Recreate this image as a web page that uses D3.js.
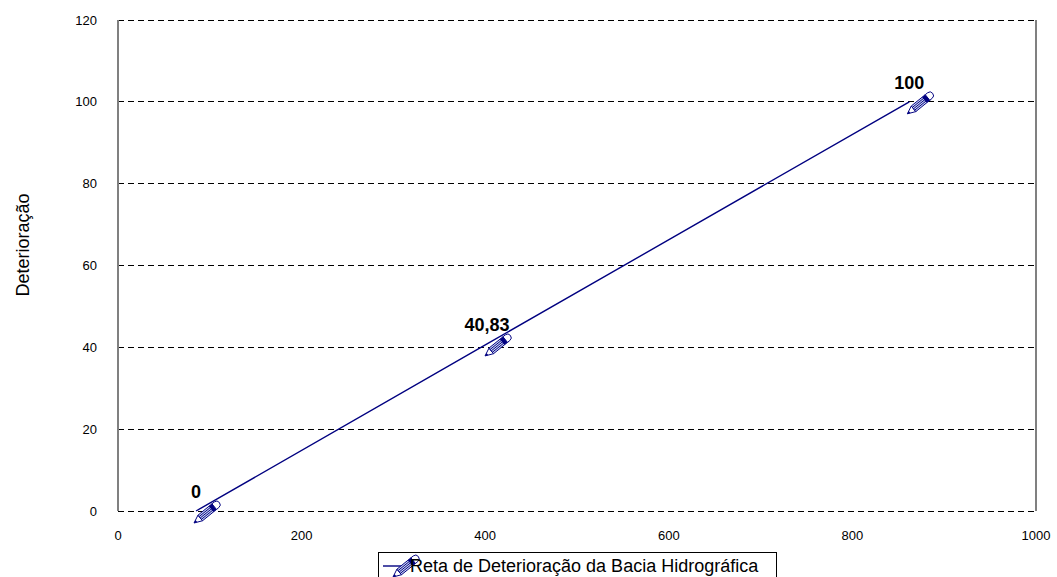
<!DOCTYPE html>
<html>
<head>
<meta charset="utf-8">
<script src="https://cdn.jsdelivr.net/npm/d3@7"></script>
<style>
  html, body { margin: 0; padding: 0; background: #fff; }
  svg { display: block; font-family: "Liberation Sans", Arial, sans-serif; }
</style>
</head>
<body>
<svg id="chart" width="1057" height="577"></svg>
<script>
// Reta de deterioração: área (eixo x) vs. deterioração (eixo y)
const xValues = [85, 402, 862];
const yValues = [0, 40.83, 100];
const pointLabels = ["0", "40,83", "100"];
const xTicks = [0, 200, 400, 600, 800, 1000];
const yTicks = [0, 20, 40, 60, 80, 100, 120];
const seriesName = "Reta de Deterioração da Bacia Hidrográfica";
const yTitle = "Deterioração";

const navy = "#000080";
const svg = d3.select("#chart");

const x = d3.scaleLinear().domain([0, 1000]).range([118, 1036]);
const y = d3.scaleLinear().domain([0, 120]).range([511, 20]);

// horizontal dashed grid (includes top and bottom edges)
svg.append("g").selectAll("line").data(yTicks).join("line")
  .attr("x1", x(0)).attr("x2", x(1000))
  .attr("y1", d => y(d)).attr("y2", d => y(d))
  .attr("stroke", "#000").attr("stroke-width", 1)
  .attr("stroke-dasharray", "6,4")
  .attr("shape-rendering", "crispEdges");

// vertical frame edges
[0, 1000].forEach(v => {
  svg.append("line")
    .attr("x1", x(v)).attr("x2", x(v))
    .attr("y1", y(120)).attr("y2", y(0))
    .attr("stroke", "#808080").attr("stroke-width", 1.5)
    .attr("shape-rendering", "crispEdges");
});

// y tick labels
svg.append("g").selectAll("text").data(yTicks).join("text")
  .attr("x", 97).attr("y", d => y(d)).attr("dy", "0.35em")
  .attr("text-anchor", "end").attr("font-size", 13).attr("fill", "#000")
  .text(d => d);

// x tick labels
svg.append("g").selectAll("text").data(xTicks).join("text")
  .attr("x", d => x(d)).attr("y", 540)
  .attr("text-anchor", "middle").attr("font-size", 13).attr("fill", "#000")
  .text(d => d);

// y axis title
svg.append("text")
  .attr("transform", "translate(29,245) rotate(-90)")
  .attr("text-anchor", "middle").attr("font-size", 18).attr("fill", "#000")
  .text(yTitle);

const pts = xValues.map((v, i) => ({ x: v, y: yValues[i], label: pointLabels[i] }));

// series line
svg.append("path").datum(pts)
  .attr("d", d3.line().x(d => x(d.x)).y(d => y(d.y)))
  .attr("fill", "none").attr("stroke", navy).attr("stroke-width", 1.4);

// pencil marker, tip at local origin, body along +x
function pencil(g) {
  g.append("path")
    .attr("d", "M0,0 L8,-3.6 L8,3.6 Z")
    .attr("fill", "#fff").attr("stroke", navy).attr("stroke-width", 0.9);
  g.append("path").attr("d", "M0,0 L3,-1.3 L3,1.3 Z").attr("fill", navy);
  g.append("rect").attr("x", 8).attr("y", -3.6).attr("width", 18).attr("height", 7.2)
    .attr("fill", "#c8d0f0").attr("stroke", navy).attr("stroke-width", 0.9);
  [-1.8, 0, 1.8].forEach(o => {
    g.append("line").attr("x1", 8).attr("x2", 26).attr("y1", o).attr("y2", o)
      .attr("stroke", navy).attr("stroke-width", 0.9);
  });
  g.append("rect").attr("x", 22).attr("y", -3.6).attr("width", 4).attr("height", 7.2)
    .attr("fill", navy);
  g.append("path")
    .attr("d", "M26,-3.6 L29,-3.6 A3.6,3.6 0 0 1 29,3.6 L26,3.6 Z")
    .attr("fill", "#fff").attr("stroke", navy).attr("stroke-width", 0.9);
}

const markers = svg.append("g").selectAll("g").data(pts).join("g")
  .attr("transform", d => `translate(${x(d.x) - 2},${y(d.y) + 12}) rotate(-39)`);
markers.each(function () { pencil(d3.select(this)); });

// data labels
svg.append("g").selectAll("text").data(pts).join("text")
  .attr("x", d => x(d.x)).attr("y", d => y(d.y) - 13)
  .attr("text-anchor", "middle").attr("font-size", 18).attr("font-weight", "bold")
  .attr("fill", "#000")
  .text(d => d.label);

// legend
const lg = svg.append("g");
lg.append("rect").attr("x", 378.5).attr("y", 552.5).attr("width", 398).attr("height", 40)
  .attr("fill", "#fff").attr("stroke", "#000").attr("stroke-width", 1);
lg.append("line").attr("x1", 383).attr("x2", 408).attr("y1", 566).attr("y2", 566)
  .attr("stroke", navy).attr("stroke-width", 1.4);
const lp = lg.append("g").attr("transform", "translate(393,577) rotate(-39)");
pencil(lp);
lg.append("text").attr("x", 410).attr("y", 572)
  .attr("font-size", 18).attr("fill", "#000")
  .text(seriesName);
</script>
</body>
</html>
